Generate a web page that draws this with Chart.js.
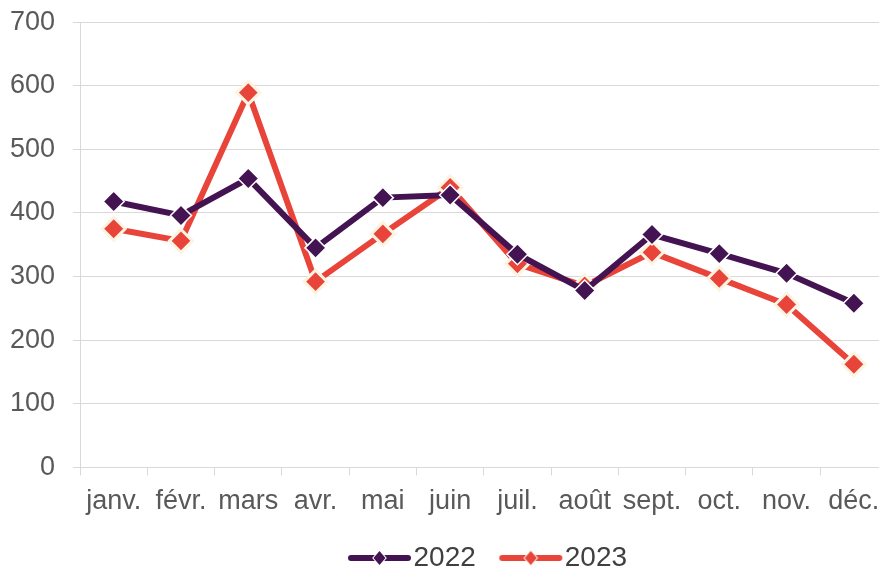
<!DOCTYPE html>
<html>
<head>
<meta charset="utf-8">
<script src="https://cdn.jsdelivr.net/npm/chart.js@4.4.1/dist/chart.umd.min.js"></script>
<style>
  html, body { margin: 0; padding: 0; background: #fff; overflow: hidden; }
  #wrap { width: 902px; height: 582px; position: relative; }
</style>
</head>
<body>
<div id="wrap"><canvas id="chart"></canvas></div>
<script>
const months = ["janv.", "févr.", "mars", "avr.", "mai", "juin", "juil.", "août", "sept.", "oct.", "nov.", "déc."];
const values2022 = [418, 396, 454, 345, 424, 428, 335, 278, 366, 336, 305, 258];
const values2023 = [375, 356, 589, 292, 367, 440, 320, 285, 338, 297, 256, 162];
const yTicks = [0, 100, 200, 300, 400, 500, 600, 700];

const purple = "#431352";
const red = "#e8443a";
const cream = "#fdf3e1";
const fontName = "Liberation Sans";

// legend swatch: a rounded line with a small diamond in the middle,
// drawn off-centre in the image so that it sits close to its text
function legendSwatch(colour, border) {
  const c = document.createElement("canvas");
  c.width = 84; c.height = 18;
  const ctx = c.getContext("2d");
  ctx.strokeStyle = colour;
  ctx.lineWidth = 6;
  ctx.lineCap = "round";
  ctx.beginPath();
  ctx.moveTo(23, 9); ctx.lineTo(80, 9);
  ctx.stroke();
  const cx = 51.5;
  ctx.beginPath();
  ctx.moveTo(cx, 2); ctx.lineTo(cx + 6, 9); ctx.lineTo(cx, 16); ctx.lineTo(cx - 6, 9); ctx.closePath();
  ctx.lineWidth = 2;
  ctx.strokeStyle = border;
  ctx.stroke();
  ctx.fillStyle = colour;
  ctx.fill();
  return c;
}

const swatches = [legendSwatch(purple, "#ffffff"), legendSwatch(red, cream)];

new Chart(document.getElementById("chart"), {
  type: "line",
  data: {
    labels: months,
    datasets: [
      {
        label: "2022",
        data: values2022,
        borderColor: purple,
        backgroundColor: purple,
        borderWidth: 6,
        pointStyle: "rectRot",
        pointRadius: 10.5,
        pointBackgroundColor: purple,
        pointBorderColor: "#ffffff",
        pointBorderWidth: 1.5,
        tension: 0
      },
      {
        label: "2023",
        data: values2023,
        borderColor: red,
        backgroundColor: red,
        borderWidth: 6,
        pointStyle: "rectRot",
        pointRadius: 11.5,
        pointBackgroundColor: red,
        pointBorderColor: cream,
        pointBorderWidth: 3,
        tension: 0
      }
    ]
  },
  options: {
    responsive: true,
    maintainAspectRatio: false,
    animation: false,
    layout: { padding: { left: -8, right: 0, top: 0, bottom: 0 } },
    plugins: {
      tooltip: { enabled: false },
      legend: {
        position: "bottom",
        fullSize: false,
        labels: {
          usePointStyle: true,
          pointStyleWidth: 59,
          font: { family: fontName, size: 28 },
          color: "#404040",
          padding: 16,
          generateLabels: function (chart) {
            return chart.data.datasets.map((ds, i) => ({
              text: ds.label,
              pointStyle: swatches[i],
              fillStyle: ds.borderColor,
              strokeStyle: ds.borderColor,
              lineWidth: 0,
              datasetIndex: i,
              fontColor: "#404040"
            }));
          }
        }
      }
    },
    scales: {
      x: {
        offset: true,
        grid: {
          offset: true,
          drawOnChartArea: false,
          drawTicks: true,
          tickLength: 8,
          color: "#d9d9d9"
        },
        border: { color: "#d9d9d9" },
        ticks: {
          autoSkip: false,
          maxRotation: 0,
          minRotation: 0,
          padding: 0,
          color: "#595959",
          font: { family: fontName, size: 27, lineHeight: 1.95 }
        }
      },
      y: {
        min: 0,
        max: 700,
        afterBuildTicks: function (axis) {
          axis.ticks = yTicks.map(v => ({ value: v }));
        },
        grid: {
          color: "#d9d9d9",
          tickLength: 7
        },
        border: { color: "#d9d9d9" },
        ticks: {
          padding: 18,
          color: "#595959",
          font: { family: fontName, size: 27, lineHeight: 0.3 }
        }
      }
    }
  }
});
</script>
</body>
</html>
